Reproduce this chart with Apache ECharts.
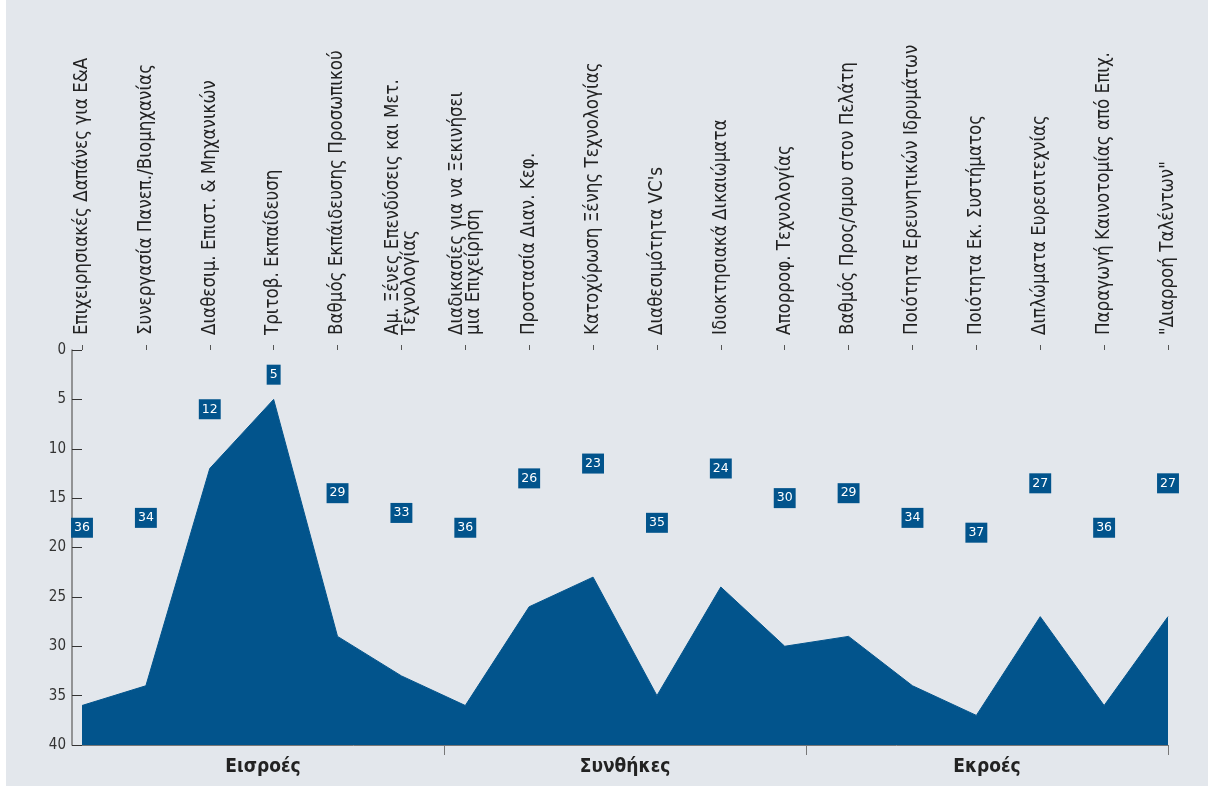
<!DOCTYPE html>
<html>
<head>
<meta charset="utf-8">
<script src="https://cdn.jsdelivr.net/npm/echarts@6/dist/echarts.min.js"></script>
<style>
html,body{margin:0;padding:0;background:#ffffff;}
#chart{position:absolute;left:6px;top:0;width:1202px;height:786px;background:#e3e7ec;}
</style>
</head>
<body>
<div id="chart"></div>
<script>
const categories = [
  'Επιχειρησιακές Δαπάνες για Ε&Α',
  'Συνεργασία Πανεπ./Βιομηχανίας',
  'Διαθεσιμ. Επιστ. & Μηχανικών',
  'Τριτοβ. Εκπαίδευση',
  'Βαθμός Εκπάιδευσης Προσωπικού',
  'Αμ. Ξένες Επενδύσεις και Μετ.\nΤεχνολογίας',
  'Διαδικασίες για να Ξεκινήσει\nμια Επιχείρηση',
  'Προστασία Διαν. Κεφ.',
  'Κατοχύρωση Ξένης Τεχνολογίας',
  'Διαθεσιμότητα VC\'s',
  'Ιδιοκτησιακά Δικαιώματα',
  'Απορροφ. Τεχνολογίας',
  'Βαθμός Προς/σμου στον Πελάτη',
  'Ποιότητα Ερευνητικών Ιδρυμάτων',
  'Ποιότητα Εκ. Συστήματος',
  'Διπλώματα Ευρεσιτεχνίας',
  'Παραγωγή Καινοτομίας από Επιχ.',
  '"Διαρροή Ταλέντων"'
];
const ranks = [36, 34, 12, 5, 29, 33, 36, 26, 23, 35, 24, 30, 29, 34, 37, 27, 36, 27];
const groups = ['Εισροές', 'Συνθήκες', 'Εκροές'];
const yTicks = [0, 40, 5];

const BLUE = '#02548c';
const FONT = "'Liberation Sans Narrow', 'DejaVu Sans Condensed', sans-serif";

const chart = echarts.init(document.getElementById('chart'));
chart.setOption({
  backgroundColor: '#e3e7ec',
  animation: false,
  grid: { left: 76, right: 40, top: 350, bottom: 41 },
  xAxis: [
    {
      type: 'category',
      position: 'top',
      data: categories,
      boundaryGap: false,
      axisLine: { show: false },
      axisTick: { show: true, length: 5, lineStyle: { color: '#555', width: 1 } },
      axisLabel: {
        interval: 0, rotate: 90, margin: 15,
        fontFamily: FONT, fontSize: 18.6, color: '#222', lineHeight: 17
      },
      splitLine: { show: false }
    },
    {
      type: 'category',
      position: 'bottom',
      data: groups,
      boundaryGap: true,
      axisLine: { show: true, lineStyle: { color: '#777', width: 1 } },
      axisTick: { show: true, length: 10, interval: (i) => i > 0, lineStyle: { color: '#777', width: 1 } },
      axisLabel: {
        interval: 0, margin: 13,
        fontFamily: FONT, fontSize: 19, fontWeight: 'bold', color: '#222'
      },
      splitLine: { show: false }
    }
  ],
  yAxis: {
    type: 'value',
    inverse: true,
    min: yTicks[0], max: yTicks[1], interval: yTicks[2],
    offset: 10,
    axisLine: { show: true, lineStyle: { color: '#777', width: 1.5 } },
    axisTick: { show: true, inside: true, length: 10, lineStyle: { color: '#333', width: 1 } },
    axisLabel: { margin: 6, fontFamily: FONT, fontSize: 15, color: '#333' },
    splitLine: { show: false }
  },
  series: [
    {
      type: 'line',
      xAxisIndex: 0,
      data: ranks,
      symbol: 'none',
      lineStyle: { color: BLUE, width: 1 },
      areaStyle: { color: BLUE, opacity: 1, origin: 'end' },
      z: 2
    },
    {
      type: 'scatter',
      xAxisIndex: 0,
      data: ranks.map((v, i) => [i, v / 2]),
      symbolSize: 1,
      itemStyle: { color: 'rgba(0,0,0,0)', opacity: 1 },
      label: {
        show: true,
        position: 'inside',
        opacity: 1,
        formatter: p => String(ranks[p.dataIndex]),
        backgroundColor: BLUE,
        color: '#ffffff',
        fontFamily: "'DejaVu Sans', sans-serif",
        fontSize: 12.5,
        lineHeight: 12,
        padding: [4, 3, 4, 3]
      },
      z: 5
    }
  ]
});
</script>
</body>
</html>
